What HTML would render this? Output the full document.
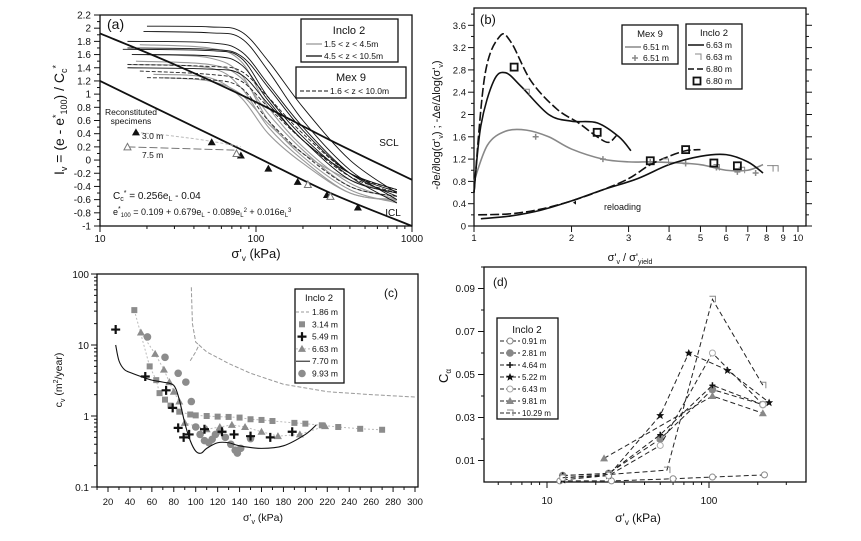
<!DOCTYPE html>
<html><head><meta charset="utf-8"><style>
body{margin:0;background:#fff}
svg{display:block;font-family:"Liberation Sans",sans-serif}
</style></head><body>
<svg id="s" width="861" height="541" viewBox="0 0 861 541"></svg>
<script>
// ---------- DATA ----------
// Panel (a)
const aX=[15,50,80,120,200,400,800];
const aBlack=[[2.03,2.02,1.95,1.5,0.8,0.0,-0.5],[1.95,1.93,1.85,1.35,0.6,-0.15,-0.6],[1.8,1.78,1.65,1.15,0.5,-0.2,-0.55],[1.7,1.68,1.58,1.1,0.45,-0.2,-0.48],[1.68,1.66,1.55,0.95,0.35,-0.25,-0.65],[1.6,1.58,1.45,0.9,0.3,-0.2,-0.45],[1.4,1.38,1.3,0.85,0.3,-0.3,-0.5]];
const aGray=[[1.75,1.7,1.5,0.8,0.2,-0.35,-0.6],[1.6,1.55,1.3,0.6,0.05,-0.45,-0.65],[1.45,1.4,1.1,0.5,0.0,-0.5,-0.6],[1.3,1.25,0.95,0.4,-0.05,-0.5,-0.62],[1.25,1.2,1.0,0.55,0.1,-0.3,-0.5],[1.5,1.45,1.25,0.7,0.15,-0.4,-0.55]];
const aDash=[[1.45,1.42,1.35,0.95,0.4,-0.2,-0.45],[1.35,1.3,1.2,0.8,0.3,-0.25,-0.5],[1.25,1.22,1.1,0.6,0.1,-0.4,-0.55]];
const sclX=[10,30,100,300,1000], sclY=[1.92,1.45,0.88,0.3,-0.3];
const iclX=[10,30,100,300,1000], iclY=[1.2,0.65,0.05,-0.5,-1.0];
const triFX=[17,52,80,120,185,285,450], triFY=[0.42,0.27,0.07,-0.13,-0.33,-0.53,-0.72];
const triOX=[15,75,215,300], triOY=[0.2,0.1,-0.37,-0.55];
const aYTicks=[2.2,2,1.8,1.6,1.4,1.2,1,0.8,0.6,0.4,0.2,0,-0.2,-0.4,-0.6,-0.8,-1];
// Panel (b)
const b63aX=[1.0,1.05,1.15,1.25,1.4,1.7,2.0,2.4,2.8,3.05], b63aY=[0.6,1.8,2.6,2.75,2.5,2.0,1.88,1.85,1.6,1.35];
const b63bX=[1.05,1.3,1.6,2.0,2.5,3.2,4.0,5.0,6.0,7.0,7.8], b63bY=[0.13,0.18,0.28,0.45,0.65,0.85,1.1,1.25,1.28,1.15,0.95];
const b80aX=[1.0,1.08,1.2,1.3,1.5,1.8,2.1,2.4,2.6,2.75], b80aY=[0.6,2.7,3.4,3.3,2.6,2.1,1.85,1.6,1.5,1.62];
const b80bX=[1.03,1.3,1.6,2.0,2.5,3.0,3.5,4.0,4.5,5.0], b80bY=[0.2,0.22,0.3,0.45,0.65,0.85,1.1,1.25,1.35,1.37];
const bSqX=[1.33,2.4,3.5,4.5,5.5,6.5], bSqY=[2.85,1.68,1.17,1.37,1.13,1.08];
const bCoX=[1.45,3.9,5.6,6.7,8.2,8.5], bCoY=[2.4,1.15,1.05,1.0,1.03,1.03];
const bMexX=[1.0,1.1,1.25,1.45,1.7,2.0,2.5,3.0,3.5,4.0,5.0,6.0,7.0,7.8], bMexY=[0.8,1.45,1.7,1.72,1.6,1.38,1.2,1.15,1.15,1.14,1.1,1.0,1.0,1.1];
const bCrX=[1.55,2.5,3.5,4.5,5.6,6.5,7.4], bCrY=[1.6,1.2,1.15,1.12,1.05,0.97,0.95];
const bYTicks=[0,0.4,0.8,1.2,1.6,2,2.4,2.8,3.2,3.6];
// Panel (c)
const c186aX=[96,97,100,103], c186aY=[65,20,11,10];
const c186bX=[95,100,103,110,130,150,180,220,260,300], c186bY=[6,8,10,8,5.5,4,2.8,2.2,2,1.85];
const c314X=[44,58,64,67,72,77,85,95,100,110,120,130,140,150,160,170,190,200,215,230,250,270], c314Y=[31,5,3.2,2.1,1.7,1.4,1.15,1.05,1.02,1.0,0.98,0.97,0.95,0.9,0.88,0.85,0.8,0.78,0.74,0.7,0.66,0.64];
const c549X=[27,54,73,79,84,89,94,108,124,135,150,168,188], c549Y=[16.5,3.6,2.3,1.3,0.68,0.5,0.55,0.65,0.6,0.55,0.52,0.5,0.6];
const c663X=[50,63,71,76,80,85,90,110,122,133,145,160,175,195,218], c663Y=[15,7.5,4.5,3,2.2,1.6,0.8,0.65,0.7,0.75,0.7,0.6,0.52,0.55,0.72];
const c770X=[27,30,35,42,50,60,70,80,85,90,95,100,105,110,120,130,140,160,180,200,210], c770Y=[10,6,4.5,4,3.6,3.2,3,2.7,1.7,0.8,0.45,0.32,0.3,0.35,0.42,0.42,0.38,0.35,0.38,0.55,0.75];
const c993X=[56,72,84,91,96,100,104,108,112,115,118,122,127,132,136,138,141,150], c993Y=[13,6.7,4,3,1.6,0.7,0.55,0.45,0.42,0.47,0.55,0.62,0.5,0.4,0.33,0.3,0.35,0.48];
const cXTicks=[20,40,60,80,100,120,140,160,180,200,220,240,260,280,300];
// Panel (d)
const d091X=[12,25,60,105,220], d091Y=[0.0005,0.0005,0.0015,0.0023,0.0033];
const d281X=[12.5,24,50,105,215], d281Y=[0.003,0.004,0.02,0.043,0.036];
const d464X=[12.5,24,50,105,215], d464Y=[0.003,0.004,0.022,0.045,0.036];
const d522X=[12.5,24,50,75,130,235], d522Y=[0.001,0.003,0.031,0.06,0.052,0.037];
const d643X=[12.5,24,50,105,215], d643Y=[0.002,0.003,0.017,0.06,0.036];
const d981X=[22.5,105,215], d981Y=[0.011,0.04,0.032];
const d1029X=[12.5,24,55,105,215], d1029Y=[0.002,0.0035,0.0055,0.085,0.045];
const dYTicks=[0.01,0.03,0.05,0.07,0.09];

// ---------- HELPERS ----------
const S=document.getElementById('s');const NS='http://www.w3.org/2000/svg';
function el(t,a,p){const e=document.createElementNS(NS,t);for(const k in a)e.setAttribute(k,a[k]);(p||S).appendChild(e);return e;}
function txt(x,y,s,a,p){const e=el('text',Object.assign({x:x,y:y,'font-size':11,fill:'#111'},a||{}),p);e.textContent=s;return e;}
const L=Math.log10;
function lin(d0,d1,r0,r1){return v=>r0+(v-d0)/(d1-d0)*(r1-r0);}
function lg(d0,d1,r0,r1){return v=>r0+(L(v)-L(d0))/(L(d1)-L(d0))*(r1-r0);}
function smooth(pts){let d='M'+pts[0][0]+','+pts[0][1];for(let i=0;i<pts.length-1;i++){const p0=pts[i-1]||pts[i],p1=pts[i],p2=pts[i+1],p3=pts[i+2]||p2;d+=' C'+(p1[0]+(p2[0]-p0[0])/6)+','+(p1[1]+(p2[1]-p0[1])/6)+' '+(p2[0]-(p3[0]-p1[0])/6)+','+(p2[1]-(p3[1]-p1[1])/6)+' '+p2[0]+','+p2[1];}return d;}
function poly(pts){return 'M'+pts.map(p=>p[0]+','+p[1]).join(' L');}
function marker(kind,x,y,c,g){
  if(kind==='sq')el('rect',{x:x-3,y:y-3,width:6,height:6,fill:c},g);
  else if(kind==='osq')el('rect',{x:x-3.5,y:y-3.5,width:7,height:7,fill:'none',stroke:c,'stroke-width':1.8},g);
  else if(kind==='plus'){el('path',{d:`M${x-4.5},${y}H${x+4.5}M${x},${y-4.5}V${y+4.5}`,stroke:c,'stroke-width':2.2},g);}
  else if(kind==='splus'){el('path',{d:`M${x-3},${y}H${x+3}M${x},${y-3}V${y+3}`,stroke:c,'stroke-width':1.5},g);}
  else if(kind==='tri')el('path',{d:`M${x},${y-4}L${x+4},${y+3}L${x-4},${y+3}Z`,fill:c},g);
  else if(kind==='otri')el('path',{d:`M${x},${y-3.5}L${x+3.5},${y+3}L${x-3.5},${y+3}Z`,fill:'#fff',stroke:c},g);
  else if(kind==='circ')el('circle',{cx:x,cy:y,r:3.8,fill:c},g);
  else if(kind==='ocirc')el('circle',{cx:x,cy:y,r:3,fill:'#fff',stroke:c},g);
  else if(kind==='corner')el('path',{d:`M${x-3},${y-3}H${x+3}V${y+3}`,fill:'none',stroke:c},g);
  else if(kind==='star')el('path',{d:`M${x},${y-4}L${x+1.2},${y-1.2}L${x+4},${y-1.2}L${x+1.8},${y+0.8}L${x+2.6},${y+3.8}L${x},${y+2}L${x-2.6},${y+3.8}L${x-1.8},${y+0.8}L${x-4},${y-1.2}L${x-1.2},${y-1.2}Z`,fill:c},g);
}
function group(name){const g=el('g',{});return g;}

// ================= PANEL A =================
(function(){
const g=group('panel-a');
const X=lg(10,1000,100,412),Y=lin(-1,2.2,226,15);
el('rect',{x:100,y:15,width:312,height:211,fill:'none',stroke:'#111','stroke-width':1.3},g);
aYTicks.forEach((t,i)=>{el('line',{x1:94,x2:100,y1:Y(t),y2:Y(t),stroke:'#111'},g);if(i<aYTicks.length-1)el('line',{x1:97,x2:100,y1:Y(t-0.1),y2:Y(t-0.1),stroke:'#111'},g);txt(91,Y(t)+3.5,String(t),{'text-anchor':'end','font-size':10},g);});
[10,100,1000].forEach(t=>{el('line',{x1:X(t),x2:X(t),y1:226,y2:232,stroke:'#111'},g);txt(X(t),242,String(t),{'text-anchor':'middle','font-size':10},g);});
[20,30,40,50,60,70,80,90,200,300,400,500,600,700,800,900].forEach(t=>el('line',{x1:X(t),x2:X(t),y1:226,y2:229,stroke:'#111'},g));
const at=txt(256,258,'σ\'',{'text-anchor':'middle','font-size':13},g);at.innerHTML='σ\'<tspan font-size="8" dy="3">v</tspan><tspan dy="-3"> (kPa)</tspan>';

const yt=txt(0,0,'',{'font-size':14,transform:'translate(64,120) rotate(-90)','text-anchor':'middle'},g);
yt.innerHTML='I<tspan font-size="9" dy="3">v</tspan><tspan dy="-3"> = (e - e</tspan><tspan font-size="9" dy="-5">*</tspan><tspan font-size="9" dy="8">100</tspan><tspan dy="-3">) / C</tspan><tspan font-size="9" dy="3">c</tspan><tspan font-size="9" dy="-8">*</tspan>';

const pts=(ys,i0)=>ys.map((y,i)=>[X(i===0?(i0||15):aX[i]),Y(y)]);
aGray.forEach((c,i)=>{const p=el('path',{d:smooth(pts(c,[18,20,15,22,25,17][i])),fill:'none',stroke:'#9a9a9a','stroke-width':1.1},g);});
aDash.forEach((c,i)=>{const p=el('path',{d:smooth(pts(c,[15,18,20][i])),fill:'none',stroke:'#222','stroke-width':0.9,'stroke-dasharray':'4,2'},g);});
aBlack.forEach((c,i)=>{const p=el('path',{d:smooth(pts(c,[20,19,15,15,14,16,15][i])),fill:'none',stroke:'#111','stroke-width':0.9},g);});
const scl=el('path',{d:smooth(sclX.map((x,i)=>[X(x),Y(sclY[i])])),fill:'none',stroke:'#111','stroke-width':1.8},g);

const icl=el('path',{d:smooth(iclX.map((x,i)=>[X(x),Y(iclY[i])])),fill:'none',stroke:'#111','stroke-width':1.8},g);

el('path',{d:`M${X(17)},${Y(0.42)} Q${X(40)},${Y(0.35)} ${X(80)},${Y(0.2)}`,fill:'none',stroke:'#bbb','stroke-dasharray':'3,2'},g);
el('path',{d:`M${X(15)},${Y(0.2)} L${X(75)},${Y(0.15)}`,fill:'none',stroke:'#777','stroke-dasharray':'8,3'},g);
triFX.forEach((x,i)=>marker('tri',X(x),Y(triFY[i]),'#111',g));
triOX.forEach((x,i)=>marker('otri',X(x),Y(triOY[i]),'#777',g));
txt(107,29,'(a)',{'font-size':14},g);
txt(389,146,'SCL',{'font-size':10,'text-anchor':'middle'},g);txt(393,216,'ICL',{'font-size':10,'text-anchor':'middle'},g);
txt(131,115,'Reconstituted',{'font-size':8.5,'text-anchor':'middle'},g);txt(131,124,'specimens',{'font-size':8.5,'text-anchor':'middle'},g);
txt(142,139,'3.0 m',{'font-size':8.5},g);txt(142,158,'7.5 m',{'font-size':8.5},g);
const f1=txt(113,199,'',{'font-size':10},g);f1.innerHTML='C<tspan font-size="7" dy="2">c</tspan><tspan font-size="7" dy="-6">*</tspan><tspan dy="4"> = 0.256e</tspan><tspan font-size="7" dy="2">L</tspan><tspan dy="-2"> - 0.04</tspan>';
const f2=txt(113,215,'',{'font-size':9},g);f2.innerHTML='e<tspan font-size="7" dy="-4">*</tspan><tspan font-size="6" dy="6">100</tspan><tspan dy="-2"> = 0.109 + 0.679e</tspan><tspan font-size="6" dy="2">L</tspan><tspan dy="-2"> - 0.089e</tspan><tspan font-size="6" dy="2">L</tspan><tspan font-size="6" dy="-5">2</tspan><tspan dy="3"> + 0.016e</tspan><tspan font-size="6" dy="2">L</tspan><tspan font-size="6" dy="-5">3</tspan>';
const lg1=group('legend-a-inclo2');g.appendChild(lg1);
el('rect',{x:301,y:19,width:97,height:43,fill:'#fff',stroke:'#111','stroke-width':1.3},lg1);
txt(349,34,'Inclo 2',{'font-size':11,'text-anchor':'middle'},lg1);
el('line',{x1:306,x2:322,y1:44,y2:44,stroke:'#999','stroke-width':1.3},lg1);txt(324,47,'1.5 < z < 4.5m',{'font-size':8.5},lg1);
el('line',{x1:306,x2:322,y1:56,y2:56,stroke:'#111','stroke-width':1.3},lg1);txt(324,59,'4.5 < z < 10.5m',{'font-size':8.5},lg1);
const lg2=group('legend-a-mex9');g.appendChild(lg2);
el('rect',{x:296,y:67,width:110,height:31,fill:'#fff',stroke:'#111','stroke-width':1.3},lg2);
txt(351,81,'Mex 9',{'font-size':11,'text-anchor':'middle'},lg2);
el('line',{x1:300,x2:328,y1:91,y2:91,stroke:'#111','stroke-dasharray':'4,2'},lg2);txt(330,94,'1.6 < z < 10.0m',{'font-size':8.5},lg2);
})();

// ================= PANEL B =================
(function(){
const g=group('panel-b');
const X=lg(1,10,474,798),Y=lin(0,0.4,226,203.7);
el('rect',{x:474,y:8,width:332,height:218,fill:'none',stroke:'#111','stroke-width':1.3},g);
bYTicks.forEach(t=>{[[468,474],[806,812]].forEach(a=>el('line',{x1:a[0],x2:a[1],y1:Y(t),y2:Y(t),stroke:'#111'},g));[[471,474],[806,809]].forEach(a=>el('line',{x1:a[0],x2:a[1],y1:Y(t+0.2),y2:Y(t+0.2),stroke:'#111'},g));txt(466,Y(t)+3.5,String(t),{'text-anchor':'end','font-size':9.5},g);});
[1,2,3,4,5,6,7,8,9,10].forEach(t=>{el('line',{x1:X(t),x2:X(t),y1:226,y2:232,stroke:'#111'},g);txt(X(t),241,String(t),{'text-anchor':'middle','font-size':9.5},g);});
const at=txt(630,261,'',{'text-anchor':'middle','font-size':11},g);at.innerHTML='σ\'<tspan font-size="7" dy="3">v</tspan><tspan dy="-3"> / σ\'</tspan><tspan font-size="7" dy="3">yield</tspan>';

const yt=txt(0,0,'',{'font-size':11,transform:'translate(440,125) rotate(-90)','text-anchor':'middle'},g);
yt.innerHTML='-∂e/∂log(σ\'<tspan font-size="7" dy="3">v</tspan><tspan dy="-3">) ; -Δe/Δlog(σ\'</tspan><tspan font-size="7" dy="3">v</tspan><tspan dy="-3">)</tspan>';

const P=(xs,ys)=>xs.map((x,i)=>[X(x),Y(ys[i])]);
const s1=el('path',{d:smooth(P(bMexX,bMexY)),fill:'none',stroke:'#888','stroke-width':1.6},g);
[[b63aX,b63aY],[b63bX,b63bY]].forEach(a=>{const p=el('path',{d:smooth(P(a[0],a[1])),fill:'none',stroke:'#111','stroke-width':1.6},g);});
[[b80aX,b80aY],[b80bX,b80bY]].forEach(a=>{const p=el('path',{d:smooth(P(a[0],a[1])),fill:'none',stroke:'#111','stroke-width':1.6,'stroke-dasharray':'9,3'},g);});
bCrX.forEach((x,i)=>marker('splus',X(x),Y(bCrY[i]),'#888',g));
bCoX.forEach((x,i)=>marker('corner',X(x),Y(bCoY[i]),'#888',g));
bSqX.forEach((x,i)=>marker('osq',X(x),Y(bSqY[i]),'#111',g));
txt(604,210,'reloading',{'font-size':9},g);
el('path',{d:`M${X(2.05)-2},${Y(0.42)} l3,-2 v4z`,fill:'#111'},g);
txt(480,24,'(b)',{'font-size':13},g);
const l1=group('legend-b-mex9');g.appendChild(l1);
el('rect',{x:622,y:25,width:56,height:39,fill:'#fff',stroke:'#111','stroke-width':1.3},l1);
txt(650,37,'Mex 9',{'font-size':9.5,'text-anchor':'middle'},l1);
el('line',{x1:625,x2:641,y1:47,y2:47,stroke:'#888','stroke-width':1.5},l1);txt(643,50,'6.51 m',{'font-size':8.5},l1);
marker('splus',635,58,'#888',l1);txt(643,61,'6.51 m',{'font-size':8.5},l1);
const l2=group('legend-b-inclo2');g.appendChild(l2);
el('rect',{x:686,y:24,width:56,height:65,fill:'#fff',stroke:'#111','stroke-width':1.3},l2);
txt(714,36,'Inclo 2',{'font-size':9.5,'text-anchor':'middle'},l2);
el('line',{x1:688,x2:704,y1:45,y2:45,stroke:'#111','stroke-width':1.5},l2);txt(706,48,'6.63 m',{'font-size':8.5},l2);
marker('corner',698,57,'#888',l2);txt(706,60,'6.63 m',{'font-size':8.5},l2);
el('line',{x1:688,x2:704,y1:69,y2:69,stroke:'#111','stroke-width':1.5,'stroke-dasharray':'6,3'},l2);txt(706,72,'6.80 m',{'font-size':8.5},l2);
marker('osq',697,81,'#111',l2);txt(706,84,'6.80 m',{'font-size':8.5},l2);
})();

// ================= PANEL C =================
(function(){
const g=group('panel-c');
const X=lin(20,300,108,415),Y=lg(0.1,100,487,274);
el('rect',{x:97,y:274,width:321,height:213,fill:'none',stroke:'#111','stroke-width':1.3},g);
[0.1,1,10,100].forEach(t=>{el('line',{x1:91,x2:97,y1:Y(t),y2:Y(t),stroke:'#111'},g);txt(89,Y(t)+4,String(t),{'text-anchor':'end','font-size':10},g);});
[0.2,0.3,0.4,0.5,0.6,0.7,0.8,0.9,2,3,4,5,6,7,8,9,20,30,40,50,60,70,80,90].forEach(t=>el('line',{x1:94,x2:97,y1:Y(t),y2:Y(t),stroke:'#111'},g));
cXTicks.forEach(t=>{el('line',{x1:X(t),x2:X(t),y1:487,y2:492,stroke:'#111'},g);el('line',{x1:X(t-10),x2:X(t-10),y1:487,y2:490,stroke:'#111'},g);txt(X(t),505,String(t),{'text-anchor':'middle','font-size':9.5},g);});
const at=txt(263,521,'',{'text-anchor':'middle','font-size':10.5},g);at.innerHTML='σ\'<tspan font-size="7" dy="3">v</tspan><tspan dy="-3"> (kPa)</tspan>';

const yt=txt(0,0,'',{'font-size':10.5,transform:'translate(62,380) rotate(-90)','text-anchor':'middle'},g);
yt.innerHTML='c<tspan font-size="7" dy="3">v</tspan><tspan dy="-3"> (m</tspan><tspan font-size="7" dy="-4">2</tspan><tspan dy="4">/year)</tspan>';

const P=(xs,ys)=>xs.map((x,i)=>[X(x),Y(ys[i])]);
[[c186aX,c186aY],[c186bX,c186bY]].forEach(a=>{const p=el('path',{d:poly(P(a[0],a[1])),fill:'none',stroke:'#999','stroke-dasharray':'4,2'},g);});
el('path',{d:poly(P(c314X,c314Y)),fill:'none',stroke:'#bbb','stroke-dasharray':'2,2'},g);
el('path',{d:poly(P(c663X,c663Y)),fill:'none',stroke:'#bbb','stroke-dasharray':'2,2'},g);
c314X.forEach((x,i)=>marker('sq',X(x),Y(c314Y[i]),'#8c8c8c',g));
c663X.forEach((x,i)=>marker('tri',X(x),Y(c663Y[i]),'#8c8c8c',g));
c993X.forEach((x,i)=>marker('circ',X(x),Y(c993Y[i]),'#8c8c8c',g));
const l7=el('path',{d:smooth(P(c770X,c770Y)),fill:'none',stroke:'#111','stroke-width':1.1},g);
c549X.forEach((x,i)=>marker('plus',X(x),Y(c549Y[i]),'#111',g));
txt(391,297,'(c)',{'font-size':12,'text-anchor':'middle'},g);
const lgc=group('legend-c');g.appendChild(lgc);
el('rect',{x:295,y:289,width:49,height:94,fill:'#fff',stroke:'#111','stroke-width':1.3},lgc);
txt(319,301,'Inclo 2',{'font-size':9.5,'text-anchor':'middle'},lgc);
const names=['1.86 m','3.14 m','5.49 m','6.63 m','7.70 m','9.93 m'];
names.forEach((n,i)=>{const y=312+i*12.3;txt(312,y+3,n,{'font-size':8.5},lgc);const mx=302;
 if(i===0)el('line',{x1:296,x2:310,y1:y,y2:y,stroke:'#999','stroke-dasharray':'3,2'},lgc);
 if(i===1)marker('sq',mx,y,'#8c8c8c',lgc);if(i===2)marker('plus',mx,y,'#111',lgc);
 if(i===3){el('line',{x1:296,x2:310,y1:y,y2:y,stroke:'#bbb','stroke-dasharray':'2,2'},lgc);marker('tri',mx,y,'#8c8c8c',lgc);}
 if(i===4)el('line',{x1:296,x2:310,y1:y,y2:y,stroke:'#111'},lgc);if(i===5)marker('circ',mx,y,'#8c8c8c',lgc);});
})();

// ================= PANEL D =================
(function(){
const g=group('panel-d');
const X=lg(10,100,547,709),Y=lin(0,0.1,482,267);
el('rect',{x:484,y:267,width:322,height:215,fill:'none',stroke:'#111','stroke-width':1.3},g);
dYTicks.forEach(t=>{el('line',{x1:478,x2:484,y1:Y(t),y2:Y(t),stroke:'#111'},g);el('line',{x1:481,x2:484,y1:Y(t+0.01),y2:Y(t+0.01),stroke:'#111'},g);txt(475,Y(t)+3.5,t.toFixed(2),{'text-anchor':'end','font-size':10},g);});
[10,100].forEach(t=>{el('line',{x1:X(t),x2:X(t),y1:482,y2:488,stroke:'#111'},g);txt(X(t),504,String(t),{'text-anchor':'middle','font-size':10},g);});
[5,6,7,8,9,20,30,40,50,60,70,80,90,200,300].forEach(t=>el('line',{x1:X(t),x2:X(t),y1:482,y2:485,stroke:'#111'},g));
const at=txt(638,522,'',{'text-anchor':'middle','font-size':12},g);at.innerHTML='σ\'<tspan font-size="8" dy="3">v</tspan><tspan dy="-3"> (kPa)</tspan>';

const yt=txt(0,0,'',{'font-size':13,transform:'translate(448,376) rotate(-90)','text-anchor':'middle'},g);
yt.innerHTML='C<tspan font-size="8" dy="3">α</tspan>';
const P=(xs,ys)=>xs.map((x,i)=>[X(x),Y(ys[i])]);
const ser=[[d091X,d091Y,'ocirc','#888'],[d281X,d281Y,'circ','#888'],[d464X,d464Y,'plus','#111'],[d522X,d522Y,'star','#111'],[d643X,d643Y,'ocirc','#aaa'],[d981X,d981Y,'tri','#888'],[d1029X,d1029Y,'corner','#888']];
ser.forEach(s=>{const p=el('path',{d:poly(P(s[0],s[1])),fill:'none',stroke:'#222','stroke-dasharray':'5,3'},g);s[0].forEach((x,i)=>marker(s[2]==='plus'?'splus':s[2],X(x),Y(s[1][i]),s[3],g));});
txt(493,286,'(d)',{'font-size':12},g);
const lgd=group('legend-d');g.appendChild(lgd);
el('rect',{x:497,y:318,width:61,height:101,fill:'#fff',stroke:'#111','stroke-width':1.3},lgd);
txt(527,333,'Inclo 2',{'font-size':10,'text-anchor':'middle'},lgd);
const nm=['0.91 m','2.81 m','4.64 m','5.22 m','6.43 m','9.81 m','10.29 m'];
nm.forEach((n,i)=>{const y=341+i*12;el('line',{x1:500,x2:520,y1:y,y2:y,stroke:'#222','stroke-dasharray':'4,2'},lgd);marker(ser[i][2]==='plus'?'splus':ser[i][2],510,y,ser[i][3],lgd);txt(522,y+3,n,{'font-size':8},lgd);});
})();
</script>
</body></html>
